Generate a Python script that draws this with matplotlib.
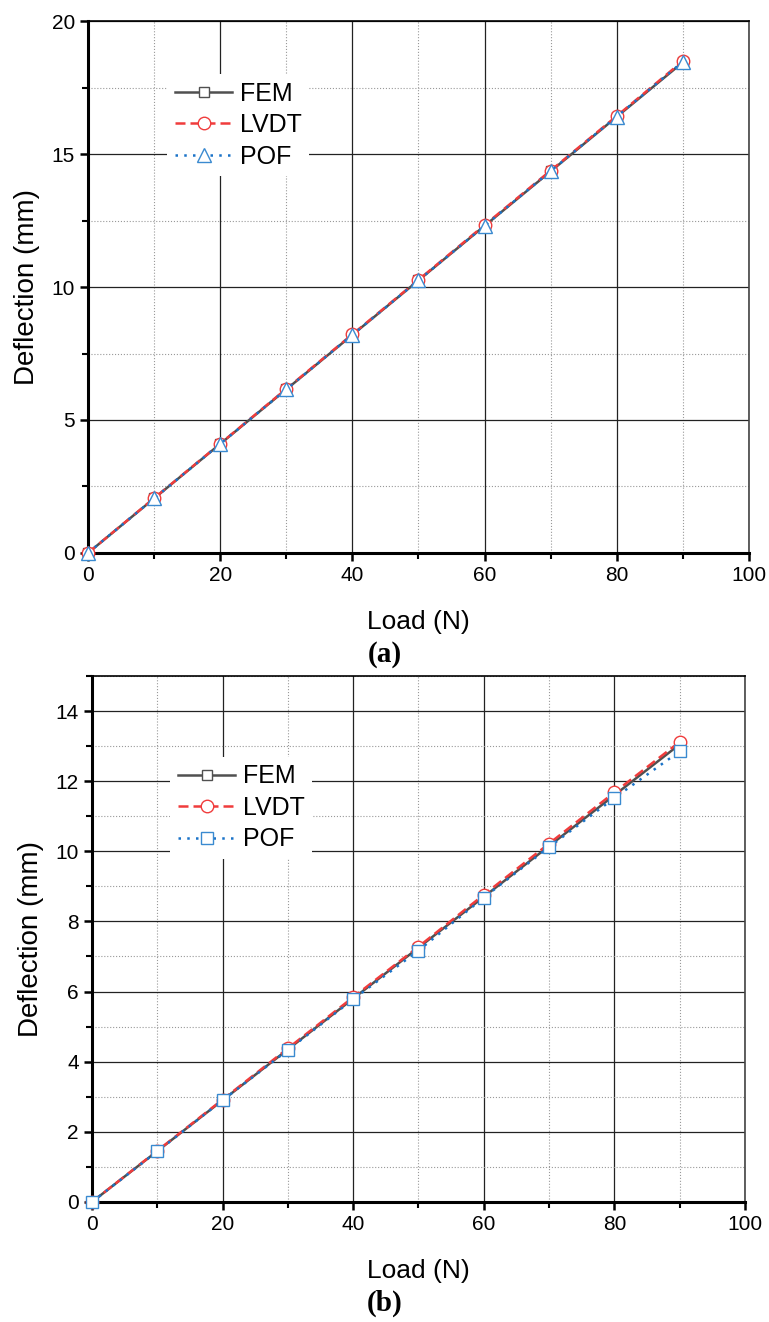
import matplotlib
matplotlib.use("Agg")
import matplotlib.pyplot as plt
from matplotlib.ticker import MultipleLocator

plt.rcParams['font.family'] = ['Liberation Sans', 'DejaVu Sans']

# dados
carga = [0, 10, 20, 30, 40, 50, 60, 70, 80, 90]

# (a)
fem_a = [0, 2.05, 4.1, 6.15, 8.2, 10.25, 12.3, 14.35, 16.4, 18.45]
lvdt_a = [0, 2.06, 4.11, 6.17, 8.22, 10.27, 12.33, 14.38, 16.43, 18.5]
pof_a = [0, 2.05, 4.1, 6.15, 8.2, 10.25, 12.3, 14.36, 16.41, 18.47]

# (b)
fem_b = [0, 1.45, 2.9, 4.35, 5.8, 7.25, 8.7, 10.15, 11.6, 13.05]
lvdt_b = [0, 1.46, 2.92, 4.38, 5.84, 7.28, 8.76, 10.22, 11.68, 13.12]
pof_b = [0, 1.44, 2.9, 4.33, 5.78, 7.17, 8.68, 10.12, 11.52, 12.85]

cinza = '#505050'
vermelho = '#f03c3c'
azul = '#1a73c8'

fig = plt.figure(figsize=(7.69, 13.22), dpi=100)
ax_a = fig.add_axes([0.1144, 0.5817, 0.8596, 0.4024])
ax_b = fig.add_axes([0.1196, 0.0908, 0.8492, 0.3979])


def desenha(ax, fem, lvdt, pof, marcador_pof, ymax, ymaj, ymin, leg_pos):
    ax.plot(carga, fem, color=cinza, lw=1.8, marker='s', ms=7, mfc='white',
            mec=cinza, mew=1, label='FEM', zorder=3, clip_on=False)
    ax.plot(carga, lvdt, color=vermelho, lw=1.8, ls=(0, (4, 2)), marker='o', ms=9,
            mfc='white', mec=vermelho, mew=1, label='LVDT', zorder=4, clip_on=False)
    ax.plot(carga, pof, color=azul, lw=1.8, ls=(0, (1, 2.5)), marker=marcador_pof,
            ms=10 if marcador_pof == '^' else 8, mfc='white', mec='#3a8ad0', mew=1,
            label='POF', zorder=5, clip_on=False)

    ax.set_xlim(0, 100)
    ax.set_ylim(0, ymax)
    ax.xaxis.set_major_locator(MultipleLocator(20))
    ax.xaxis.set_minor_locator(MultipleLocator(10))
    ax.yaxis.set_major_locator(MultipleLocator(ymaj))
    ax.yaxis.set_minor_locator(MultipleLocator(ymin))

    ax.grid(which='major', color='#222222', lw=0.9, ls='-', zorder=0)
    ax.grid(which='minor', color='#999999', lw=0.8, ls=':', zorder=0)
    ax.set_axisbelow(True)

    ax.spines['left'].set_linewidth(2.2)
    ax.spines['bottom'].set_linewidth(2.2)
    ax.spines['top'].set_linewidth(1.2)
    ax.spines['right'].set_linewidth(1.2)
    ax.spines['right'].set_color('#444444')

    ax.tick_params(which='major', direction='out', length=6, width=1.8, labelsize=15,
                   top=False, right=False)
    ax.tick_params(which='minor', direction='out', length=4, width=1.5,
                   top=False, right=False)

    ax.set_xlabel('Load (N)', fontsize=19, labelpad=18)
    ax.set_ylabel('Deflection (mm)', fontsize=20, labelpad=8)

    leg = ax.legend(loc='upper left', bbox_to_anchor=leg_pos, fontsize=18,
                    frameon=True, handlelength=2.3, handletextpad=0.3,
                    labelspacing=0.3, borderpad=0.3, borderaxespad=0)
    leg.get_frame().set_edgecolor('none')
    leg.get_frame().set_facecolor('white')
    leg.get_frame().set_alpha(1)


desenha(ax_a, fem_a, lvdt_a, pof_a, '^', 20, 5, 2.5, (0.12, 0.9))
desenha(ax_b, fem_b, lvdt_b, pof_b, 's', 15, 2, 1, (0.12, 0.846))

fig.text(0.5, 1 - 655 / 1322, '(a)', ha='center', va='center', fontsize=21,
         family='Liberation Serif', fontweight='bold')
fig.text(0.5, 1 - 1303 / 1322, '(b)', ha='center', va='center', fontsize=21,
         family='Liberation Serif', fontweight='bold')

fig.savefig('out.png', dpi=100)
